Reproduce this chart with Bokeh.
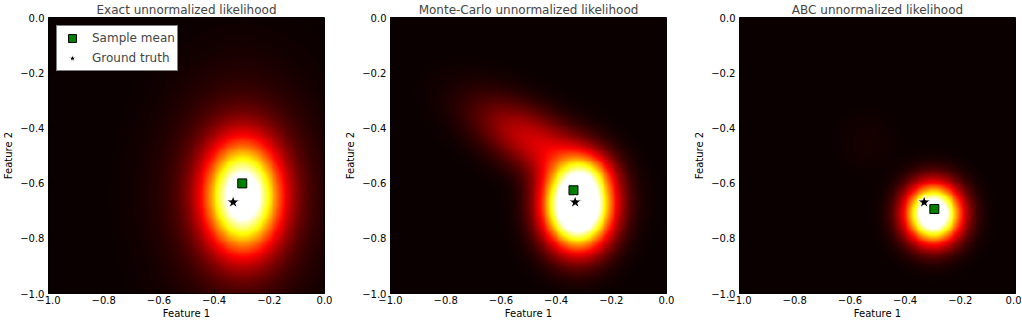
import numpy as np
from bokeh.plotting import figure
from bokeh.models import LinearColorMapper, FixedTicker, Legend, LegendItem, Range1d
from bokeh.layouts import row
from bokeh.embed import file_html
from bokeh.resources import INLINE

# ---------------- data ----------------
titles = ["Exact unnormalized likelihood",
          "Monte-Carlo unnormalized likelihood",
          "ABC unnormalized likelihood"]
tick_values = [-1.0, -0.8, -0.6, -0.4, -0.2, 0.0]
tick_labels = ["\u22121.0", "\u22120.8", "\u22120.6", "\u22120.4", "\u22120.2", "0.0"]

ground_truth_x = [-0.331]
ground_truth_y = [-0.669]
sample_mean_x = [-0.298, -0.337, -0.294]
sample_mean_y = [-0.601, -0.626, -0.694]

# likelihood surface, as bumps:
# centre x, centre y, spread x, spread y, angle (deg), height
exact_cx = [-0.295, -0.300]
exact_cy = [-0.650, -0.640]
exact_sx = [0.090, 0.170]
exact_sy = [0.130, 0.245]
exact_ang = [0, 0]
exact_amp = [1.00, 0.20]

mc_cx = [-0.321, -0.480, -0.280]
mc_cy = [-0.685, -0.450, -0.560]
mc_sx = [0.082, 0.165, 0.060]
mc_sy = [0.102, 0.075, 0.050]
mc_ang = [0, -30, 0]
mc_amp = [1.50, 0.29, 0.15]

abc_cx = [-0.297, -0.540]
abc_cy = [-0.712, -0.450]
abc_sx = [0.068, 0.070]
abc_sy = [0.072, 0.070]
abc_ang = [0, 0]
abc_amp = [1.30, 0.02]

surfaces = [
    (exact_cx, exact_cy, exact_sx, exact_sy, exact_ang, exact_amp),
    (mc_cx, mc_cy, mc_sx, mc_sy, mc_ang, mc_amp),
    (abc_cx, abc_cy, abc_sx, abc_sy, abc_ang, abc_amp),
]

# ---------------- style ----------------
FONT = "DejaVu Sans"
N = 300
gx = np.linspace(-1, 0, N)
gy = np.linspace(-1, 0, N)
X, Y = np.meshgrid(gx, gy)


def surface(cx, cy, sx, sy, ang, amp):
    Z = np.zeros_like(X)
    for a, b, s1, s2, t, h in zip(cx, cy, sx, sy, ang, amp):
        th = np.deg2rad(t)
        dx, dy = X - a, Y - b
        u = dx * np.cos(th) + dy * np.sin(th)
        v = -dx * np.sin(th) + dy * np.cos(th)
        Z += h * np.exp(-0.5 * ((u / s1) ** 2 + (v / s2) ** 2))
    return Z


def hot_palette(n=256):
    cols = []
    for i in range(n):
        t = i / (n - 1)
        r = 0.0416 + (1 - 0.0416) * min(max(t / 0.365079, 0), 1)
        g = min(max((t - 0.365079) / (0.746032 - 0.365079), 0), 1)
        b = min(max((t - 0.746032) / (1 - 0.746032), 0), 1)
        cols.append("#%02x%02x%02x" % (int(round(r * 255)), int(round(g * 255)), int(round(b * 255))))
    return cols


HOT = hot_palette()

FW = 280
TOP, FH, BOT = 15, 280, 26
borders = [(44, 18), (44, 25), (44, 6)]
figs = []
for k in range(3):
    L, R = borders[k]
    p = figure(width=L + FW + R, height=TOP + FH + BOT, output_backend="svg",
               toolbar_location=None, x_range=Range1d(-1, 0), y_range=Range1d(-1, 0),
               min_border_left=L, min_border_right=R, min_border_top=TOP,
               min_border_bottom=BOT,
               background_fill_color="white", border_fill_color="white")
    p.title.text = titles[k]
    p.title.text_font = FONT
    p.title.text_font_size = "12px"
    p.title.text_font_style = "normal"
    p.title.align = "center"
    p.title.standoff = 1
    p.grid.visible = False
    p.outline_line_color = "black"

    mapper = LinearColorMapper(palette=HOT, low=0, high=1, high_color="#ffffff")
    p.image(image=[surface(*surfaces[k])], x=-1, y=-1, dw=1, dh=1, color_mapper=mapper)

    for ax in (p.xaxis[0], p.yaxis[0]):
        ax.ticker = FixedTicker(ticks=tick_values)
        ax.major_label_overrides = dict(zip(tick_values, tick_labels))
        ax.major_label_text_font = FONT
        ax.major_label_text_font_size = "10px"
        ax.major_label_text_color = "black"
        ax.axis_label_text_font = FONT
        ax.axis_label_text_font_size = "10px"
        ax.axis_label_text_font_style = "normal"
        ax.axis_label_text_color = "black"
        ax.major_tick_in = 4
        ax.major_tick_out = 0
        ax.major_tick_line_color = "black"
        ax.minor_tick_line_color = None
        ax.axis_line_color = None
    p.xaxis[0].axis_label = "Feature 1"
    p.yaxis[0].axis_label = "Feature 2"
    p.xaxis[0].major_label_standoff = 2
    p.xaxis[0].axis_label_standoff = 1
    p.yaxis[0].major_label_standoff = 4
    p.yaxis[0].axis_label_standoff = 3

    sq = p.scatter(x=[sample_mean_x[k]], y=[sample_mean_y[k]], marker="square", size=9,
                   fill_color="#008000", line_color="black", line_width=1)
    st = p.scatter(x=ground_truth_x, y=ground_truth_y, marker="star", size=14,
                   fill_color="black", line_color="white", line_width=1)
    if k == 0:
        legend = Legend(items=[LegendItem(label="Sample mean", renderers=[sq]),
                               LegendItem(label="Ground truth", renderers=[st])],
                        location="top_left", margin=8, padding=2, spacing=-1,
                        label_height=20, glyph_height=20, glyph_width=26,
                        label_standoff=7, label_text_font=FONT,
                        label_text_font_size="12px", background_fill_color="white",
                        background_fill_alpha=1.0, border_line_color="black",
                        border_line_width=1)
        p.add_layout(legend, "center")
    figs.append(p)

layout = row(*figs)
open("out.html", "w").write(file_html(layout, INLINE))
